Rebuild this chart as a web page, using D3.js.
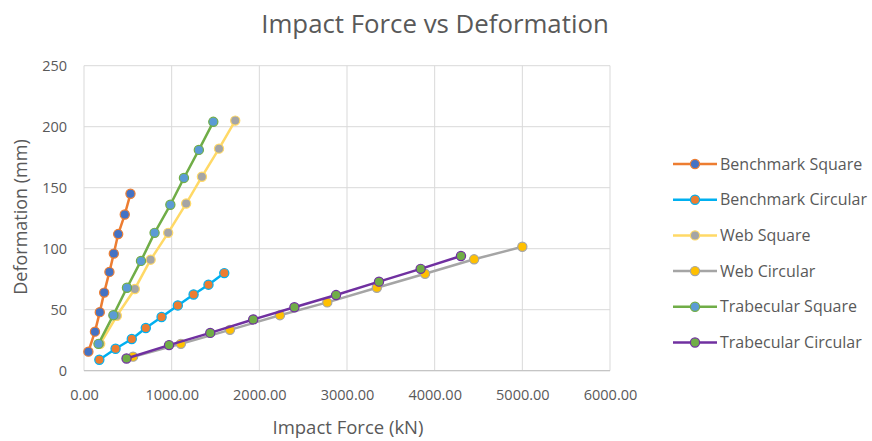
<!DOCTYPE html>
<html>
<head>
<meta charset="utf-8">
<script src="https://cdn.jsdelivr.net/npm/d3@7/dist/d3.min.js"></script>
<style>
  body { margin: 0; background: #fff; }
  svg { display: block; font-family: "Open Sans", sans-serif; }
</style>
</head>
<body>
<svg id="chart" width="872" height="441"></svg>
<script>
// Impact force (kN) against deformation (mm) for each section type
const benchmarkSquareX   = [50, 125, 180, 230, 290, 340, 390, 465, 530];
const benchmarkSquareY   = [15.6, 32, 48, 64, 81, 96, 112, 128, 145];
const benchmarkCircularX = [175, 360, 545, 705, 885, 1070, 1250, 1420, 1600];
const benchmarkCircularY = [9, 18, 26, 35, 44, 53.5, 62.5, 70.5, 80];
const webSquareX         = [185, 375, 580, 760, 960, 1165, 1345, 1540, 1725];
const webSquareY         = [22, 45, 67, 91, 113, 137, 159, 182, 205];
const webCircularX       = [560, 1105, 1665, 2235, 2775, 3340, 3890, 4450, 5000];
const webCircularY       = [11.5, 22, 33.5, 45.5, 56, 68, 79.5, 91.3, 101.6];
const trabSquareX        = [165, 335, 490, 650, 805, 985, 1140, 1310, 1475];
const trabSquareY        = [22, 45.5, 68, 90, 113, 136, 158, 181, 204];
const trabCircularX      = [485, 970, 1440, 1930, 2400, 2875, 3365, 3840, 4300];
const trabCircularY      = [10, 21, 31, 42, 52, 62, 73, 83.5, 94];

const seriesNames = ["Benchmark Square", "Benchmark Circular", "Web Square",
                     "Web Circular", "Trabecular Square", "Trabecular Circular"];
const xTicks = [0, 1000, 2000, 3000, 4000, 5000, 6000];
const yTicks = [0, 50, 100, 150, 200, 250];

const series = [
  { name: seriesNames[0], xs: benchmarkSquareX,   ys: benchmarkSquareY,   line: "#ED7D31", fill: "#4472C4" },
  { name: seriesNames[1], xs: benchmarkCircularX, ys: benchmarkCircularY, line: "#00B0F0", fill: "#ED7D31" },
  { name: seriesNames[2], xs: webSquareX,         ys: webSquareY,         line: "#FFD966", fill: "#A5A5A5" },
  { name: seriesNames[3], xs: webCircularX,       ys: webCircularY,       line: "#A5A5A5", fill: "#FFC000" },
  { name: seriesNames[4], xs: trabSquareX,        ys: trabSquareY,        line: "#70AD47", fill: "#5B9BD5" },
  { name: seriesNames[5], xs: trabCircularX,      ys: trabCircularY,      line: "#7030A0", fill: "#70AD47" }
];

const svg = d3.select("#chart");
const plot = { left: 84, right: 610, top: 65.7, bottom: 370.7 };

const x = d3.scaleLinear().domain([0, 6000]).range([plot.left, plot.right]);
const y = d3.scaleLinear().domain([0, 250]).range([plot.bottom, plot.top]);

const textColor = "#595959";
const gridColor = "#D9D9D9";

// Gridlines
svg.append("g").selectAll("line").data(xTicks).join("line")
  .attr("x1", d => x(d)).attr("x2", d => x(d))
  .attr("y1", plot.top).attr("y2", plot.bottom)
  .attr("stroke", gridColor).attr("stroke-width", 1);
svg.append("g").selectAll("line").data(yTicks).join("line")
  .attr("x1", plot.left).attr("x2", plot.right)
  .attr("y1", d => y(d)).attr("y2", d => y(d))
  .attr("stroke", gridColor).attr("stroke-width", 1);

// Axes (tick labels only; the gridlines frame the plot)
const xAxis = svg.append("g")
  .attr("transform", `translate(0,${plot.bottom})`)
  .call(d3.axisBottom(x).tickValues(xTicks).tickFormat(d3.format(".2f")).tickSize(0).tickPadding(19));
const yAxis = svg.append("g")
  .attr("transform", `translate(${plot.left},0)`)
  .call(d3.axisLeft(y).tickValues(yTicks).tickSize(0).tickPadding(17));
[xAxis, yAxis].forEach(g => {
  g.select(".domain").remove();
  g.selectAll("text").attr("fill", textColor).style("font-size", "14.5px")
    .style("font-family", "'Open Sans', sans-serif");
});
// Bottom axis line
svg.append("line")
  .attr("x1", plot.left).attr("x2", plot.right)
  .attr("y1", plot.bottom).attr("y2", plot.bottom)
  .attr("stroke", "#BFBFBF").attr("stroke-width", 1);

// Series lines and markers
const line = d3.line().x(d => x(d[0])).y(d => y(d[1]));
series.forEach(s => {
  const pts = s.xs.map((v, i) => [v, s.ys[i]]);
  const g = svg.append("g");
  g.append("path").datum(pts)
    .attr("d", line).attr("fill", "none")
    .attr("stroke", s.line).attr("stroke-width", 2.5)
    .attr("stroke-linejoin", "round");
  g.selectAll("circle").data(pts).join("circle")
    .attr("cx", d => x(d[0])).attr("cy", d => y(d[1]))
    .attr("r", 4.6)
    .attr("fill", s.fill).attr("stroke", s.line).attr("stroke-width", 1.2);
});

// Title
svg.append("text")
  .attr("x", 435).attr("y", 33)
  .attr("text-anchor", "middle")
  .attr("fill", textColor)
  .style("font-size", "25.8px")
  .text("Impact Force vs Deformation");

// Axis titles
svg.append("text")
  .attr("x", 348).attr("y", 434)
  .attr("text-anchor", "middle")
  .attr("fill", textColor)
  .style("font-size", "18.5px")
  .text("Impact Force (kN)");
svg.append("text")
  .attr("transform", "translate(27,217) rotate(-90)")
  .attr("text-anchor", "middle")
  .attr("fill", textColor)
  .style("font-size", "18px")
  .text("Deformation (mm)");

// Legend
const legend = svg.append("g");
series.forEach((s, i) => {
  const ly = 164 + i * 35.7;
  legend.append("line")
    .attr("x1", 673).attr("x2", 717).attr("y1", ly).attr("y2", ly)
    .attr("stroke", s.line).attr("stroke-width", 2.5);
  legend.append("circle")
    .attr("cx", 695).attr("cy", ly).attr("r", 4.6)
    .attr("fill", s.fill).attr("stroke", s.line).attr("stroke-width", 1.2);
  legend.append("text")
    .attr("x", 720).attr("y", ly).attr("dy", "0.35em")
    .attr("fill", textColor)
    .style("font-size", "16px")
    .text(s.name);
});
</script>
</body>
</html>
